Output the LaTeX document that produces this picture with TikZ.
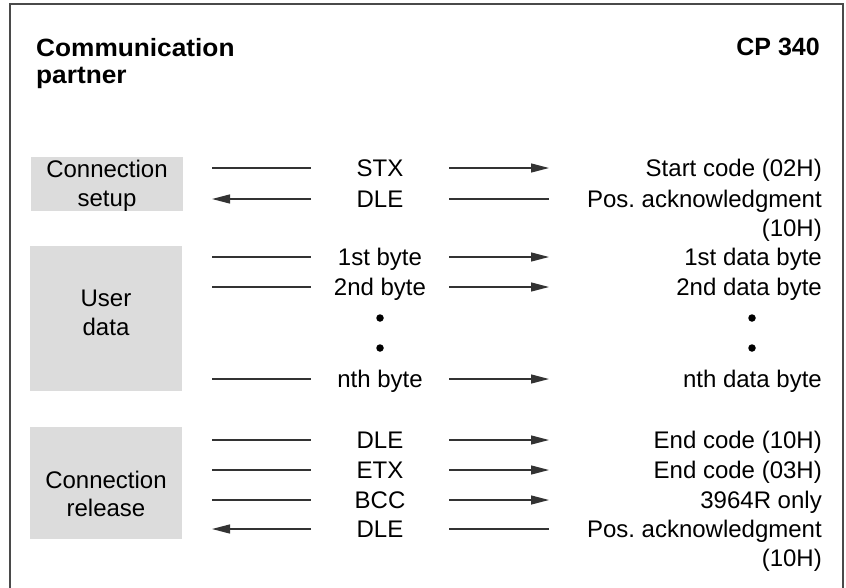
\documentclass[tikz,border=0pt]{standalone}
\usepackage{fontspec}
\setmainfont{Liberation Sans}
\newfontfamily\hdrfont[FakeStretch=1.05]{Liberation Sans Bold}
\usetikzlibrary{arrows.meta}
\definecolor{boxgray}{HTML}{DCDCDC}
\definecolor{framegray}{HTML}{4A4A4A}
\definecolor{linegray}{HTML}{333333}
\frenchspacing
\tikzset{
  frameline/.style={draw=framegray, line width=2pt},
  graybox/.style={fill=boxgray, draw=none, inner sep=0pt},
  txt/.style={inner sep=0pt, font=\fontsize{24}{29}\selectfont, text=black},
  hdr/.style={inner sep=0pt, font=\fontsize{25}{27}\selectfont\hdrfont, text=black},
  hdrcp/.style={inner sep=0pt, font=\fontsize{25}{27}\selectfont\bfseries, text=black},
  conn/.style={draw=linegray, line width=1.3pt},
  tip/.style={-{Triangle[length=18pt,width=9pt]}},
  dotnode/.style={circle, fill=black, inner sep=0pt, minimum size=7.5pt},
}
\begin{document}
\begin{tikzpicture}[x=1pt,y=-1pt]
\useasboundingbox (0,0) rectangle (846,587);
\clip (0,0) rectangle (846,587);
% frame
\draw[frameline] (10,600) -- (10,4) -- (843,4) -- (843,600);

% headers
\node[hdr, anchor=base west] (hcomm) at (36,56) {Communication};
\node[hdr, anchor=base west] (hpart) at (36,83) {partner};
\node[hdrcp, anchor=base east] (hcp) at (820,55) {CP 340};

% gray boxes
\node[graybox, minimum width=152pt, minimum height=54pt] (bsetup) at (107,184) {};
\node[graybox, minimum width=152pt, minimum height=145pt] (buser) at (106,318.5) {};
\node[graybox, minimum width=152pt, minimum height=112pt] (brel) at (106,483) {};

\node[txt, anchor=base] (tsetup1) at (107,177) {Connection};
\node[txt, anchor=base] (tsetup2) at (107,206.5) {setup};
\node[txt, anchor=base] (tuser1) at (106,306) {User};
\node[txt, anchor=base] (tuser2) at (106,335) {data};
\node[txt, anchor=base] (trel1) at (106,488) {Connection};
\node[txt, anchor=base] (trel2) at (106,516) {release};

% middle labels
\node[txt, anchor=base] (mstx) at (380,176.5) {STX};
\node[txt, anchor=base] (mdle1) at (380,207.5) {DLE};
\node[txt, anchor=base] (mb1) at (380,265.5) {1st byte};
\node[txt, anchor=base] (mb2) at (380,295.5) {2nd byte};
\node[dotnode] (md1) at (380,318) {};
\node[dotnode] (md2) at (380,348) {};
\node[txt, anchor=base] (mbn) at (380,387.5) {nth byte};
\node[txt, anchor=base] (mdle2) at (380,448.5) {DLE};
\node[txt, anchor=base] (metx) at (380,478.5) {ETX};
\node[txt, anchor=base] (mbcc) at (380,508.5) {BCC};
\node[txt, anchor=base] (mdle3) at (380,537.5) {DLE};

% right labels
\node[txt, anchor=base east] (rstart) at (822,176.5) {Start code (02H)};
\node[txt, anchor=base east] (rack1) at (822,207.5) {Pos. acknowledgment};
\node[txt, anchor=base east] (rack1b) at (822,236.5) {(10H)};
\node[txt, anchor=base east] (rb1) at (822,265.5) {1st data byte};
\node[txt, anchor=base east] (rb2) at (822,295.5) {2nd data byte};
\node[dotnode] (rd1) at (752,318) {};
\node[dotnode] (rd2) at (752,348) {};
\node[txt, anchor=base east] (rbn) at (822,387.5) {nth data byte};
\node[txt, anchor=base east] (rend1) at (822,448.5) {End code (10H)};
\node[txt, anchor=base east] (rend2) at (822,478.5) {End code (03H)};
\node[txt, anchor=base east] (ronly) at (822,508.5) {3964R only};
\node[txt, anchor=base east] (rack2) at (822,537.5) {Pos. acknowledgment};
\node[txt, anchor=base east] (rack2b) at (822,566.5) {(10H)};

% connectors: partner -> CP 340
\foreach \n/\y in {stx/168, bone/257, btwo/287, bn/379, dletwo/440, etx/470, bcc/500} {
  \coordinate (\n-a) at (212,\y);
  \coordinate (\n-b) at (311,\y);
  \coordinate (\n-c) at (449,\y);
  \coordinate (\n-d) at (549,\y);
  \draw[conn] (\n-a) -- (\n-b);
  \draw[conn, tip] (\n-c) -- (\n-d);
}
% connectors: CP 340 -> partner
\foreach \n/\y in {dleone/199, dlethree/529} {
  \coordinate (\n-a) at (212,\y);
  \coordinate (\n-b) at (311,\y);
  \coordinate (\n-c) at (449,\y);
  \coordinate (\n-d) at (549,\y);
  \draw[conn, tip] (\n-b) -- (\n-a);
  \draw[conn] (\n-c) -- (\n-d);
}
\end{tikzpicture}
\end{document}
